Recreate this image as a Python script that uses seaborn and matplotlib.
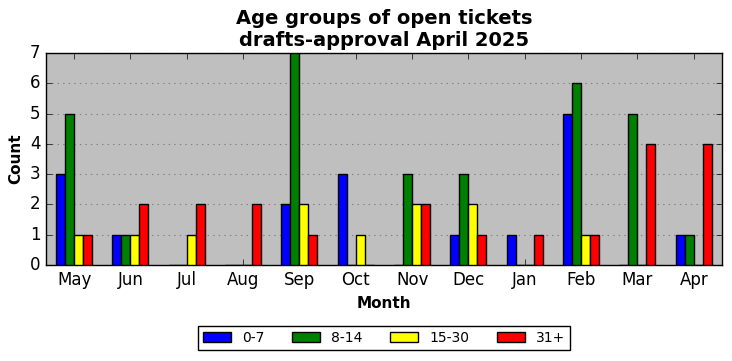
import matplotlib
matplotlib.use("Agg")
import matplotlib.pyplot as plt
import seaborn as sns
import pandas as pd

months = ["May", "Jun", "Jul", "Aug", "Sep", "Oct", "Nov", "Dec", "Jan", "Feb", "Mar", "Apr"]
age_groups = ["0-7", "8-14", "15-30", "31+"]
v_0_7 = [3, 1, 0, 0, 2, 3, 0, 1, 1, 5, 0, 1]
v_8_14 = [5, 1, 0, 0, 7, 0, 3, 3, 0, 6, 5, 1]
v_15_30 = [1, 1, 1, 0, 2, 1, 2, 2, 0, 1, 0, 0]
v_31 = [1, 2, 2, 2, 1, 0, 2, 1, 1, 1, 4, 4]
colors = ["#0000ff", "#008000", "#ffff00", "#ff0000"]

rows = []
for g, vals in zip(age_groups, [v_0_7, v_8_14, v_15_30, v_31]):
    for m, v in zip(months, vals):
        rows.append({"Month": m, "Group": g, "Count": v})
df = pd.DataFrame(rows)

plt.style.use("classic")
plt.rcParams["font.family"] = ["DejaVu Sans"]
fig = plt.figure(figsize=(7.32, 3.61), dpi=100, facecolor="white")
ax = fig.add_axes([0.0628, 0.2659, 0.9235, 0.5873])
ax.set_facecolor("#bfbfbf")
sns.barplot(data=df, x="Month", y="Count", hue="Group", order=months,
            hue_order=age_groups, palette=colors, width=0.64,
            edgecolor="black", linewidth=1, saturation=1, ax=ax, zorder=3)
ax.set_xlim(-0.5, 11.5)
ax.set_ylim(0, 7)
ax.set_yticks(range(0, 8))
ax.yaxis.grid(True, linestyle=":", color="#808080", linewidth=0.8, zorder=0)
ax.xaxis.grid(False)
ax.set_axisbelow(True)
ax.tick_params(axis="both", direction="in", top=True, right=True, labelsize=12, length=4)
ax.set_xlabel("Month", fontsize=11, fontweight="bold")
ax.set_ylabel("Count", fontsize=11, fontweight="bold")
ax.set_title("Age groups of open tickets\ndrafts-approval April 2025", fontsize=14,
             fontweight="bold", linespacing=1.2)
for s in ax.spines.values():
    s.set_linewidth(1)
ax.legend(loc="upper center", bbox_to_anchor=(0.5, -0.255), ncol=4, fontsize=10,
          frameon=True, fancybox=False, edgecolor="black", handlelength=2.0,
          handletextpad=0.8, columnspacing=2.0, borderpad=0.35)
fig.savefig("out.png", dpi=100, facecolor="white")
